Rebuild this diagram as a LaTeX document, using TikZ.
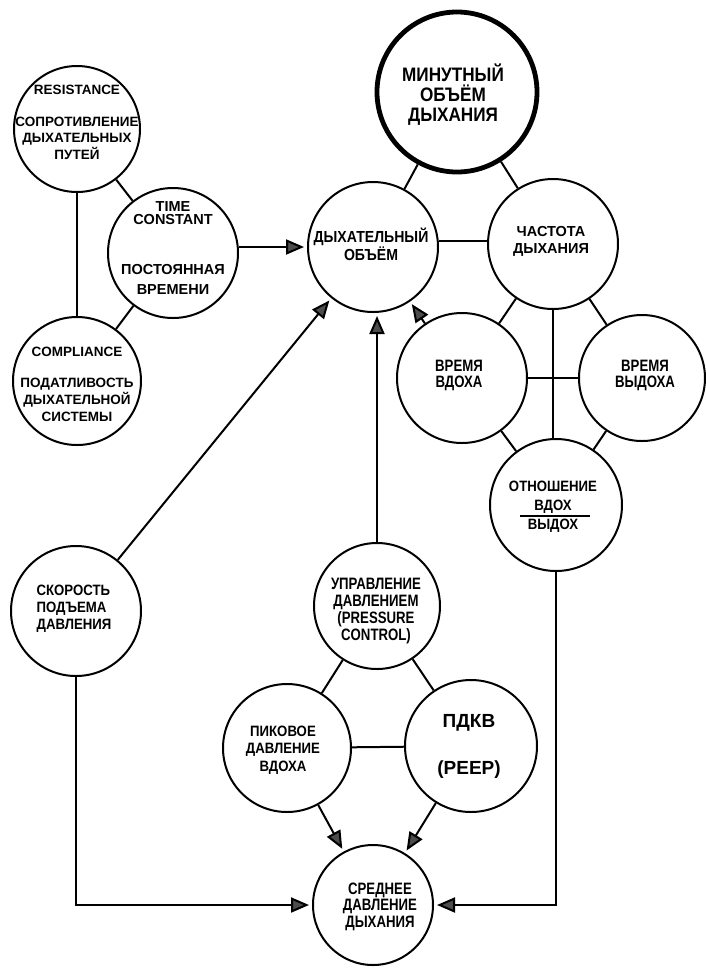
\documentclass[tikz,border=0pt]{standalone}
\usepackage{fontspec}
\setmainfont{Liberation Sans}
\newfontfamily\fa{Liberation Sans}
\newfontfamily\fb[FakeStretch=0.88]{Liberation Sans}
\newfontfamily\fc[FakeStretch=0.8]{Liberation Sans}
\usetikzlibrary{arrows.meta}
\newcommand\fsz[2]{\fontsize{#1}{#2}\selectfont\bfseries}
\begin{document}
\begin{tikzpicture}[x=1pt,y=-1pt,
  circ/.style={circle,draw=black,line width=2pt,inner sep=0pt},
  bigcirc/.style={circle,draw=black,line width=4.8pt,inner sep=0pt},
  txt/.style={align=center,inner sep=0pt,text=black},
  link/.style={line width=2pt},
  arr/.style={line width=2pt,shorten >=3pt,-{Triangle[length=18pt,width=15pt,fill=black!70]}}
]
\fill[white] (0,0) rectangle (706,970);
\useasboundingbox (0,0) rectangle (706,970);

% circles
\node[circ,minimum size=126pt] (res) at (77,129) {};
\node[circ,minimum size=130pt] (tc) at (173,253) {};
\node[circ,minimum size=128pt] (comp) at (77,381) {};
\node[bigcirc,minimum size=160pt] (mod) at (457,92) {};
\node[circ,minimum size=130pt] (do) at (373,247) {};
\node[circ,minimum size=130pt] (chd) at (553,244) {};
\node[circ,minimum size=130pt] (vv) at (462,378) {};
\node[circ,minimum size=126pt] (vvy) at (642,378) {};
\node[circ,minimum size=132pt] (otn) at (556,505) {};
\node[circ,minimum size=130pt] (skor) at (76,611) {};
\node[circ,minimum size=126pt] (upr) at (377,606) {};
\node[circ,minimum size=128pt] (pik) at (287,748) {};
\node[circ,minimum size=132pt] (pdkv) at (471,746) {};
\node[circ,minimum size=120pt] (sred) at (373,905) {};

% texts
\node[txt,font=\fa\fsz{13.5}{16.5}] (res-t) at (77,122.5)
  {RESISTANCE\\[15pt]СОПРОТИВЛЕНИЕ\\ДЫХАТЕЛЬНЫХ\\ПУТЕЙ};
\node[txt,font=\fa\fsz{14.5}{16.5}] (tc-t) at (173,248.5)
  {TIME\\[-3.5pt]CONSTANT\\[33.5pt]ПОСТОЯННАЯ\\[3.5pt]ВРЕМЕНИ};
\node[txt,font=\fa\fsz{13.5}{17}] (comp-t) at (77,384.5)
  {COMPLIANCE\\[14pt]ПОДАТЛИВОСТЬ\\ДЫХАТЕЛЬНОЙ\\СИСТЕМЫ};
\node[txt,font=\fb\fsz{19.5}{20}] (mod-t) at (453,95)
  {МИНУТНЫЙ\\ОБЪЁМ\\ДЫХАНИЯ};
\node[txt,font=\fb\fsz{16}{18}] (do-t) at (371,244)
  {ДЫХАТЕЛЬНЫЙ\\ОБЪЁМ};
\node[txt,font=\fa\fsz{14.5}{17}] (chd-t) at (551,241.5)
  {ЧАСТОТА\\ДЫХАНИЯ};
\node[txt,font=\fc\fsz{16.5}{16}] (vv-t) at (459,375)
  {ВРЕМЯ\\ВДОХА};
\node[txt,font=\fc\fsz{16.5}{16}] (vvy-t) at (645,375)
  {ВРЕМЯ\\ВЫДОХА};
\node[txt,font=\fb\fsz{15}{19}] (otn-t) at (553,507)
  {ОТНОШЕНИЕ\\ВДОХ\\ВЫДОХ};
\draw[line width=1.3pt] ([shift={(-33,9)}]otn-t.center) -- ([shift={(37,9)}]otn-t.center);
\node[txt,align=left,font=\fb\fsz{15}{17}] (skor-t) at (74,609)
  {СКОРОСТЬ\\ПОДЪЕМА\\ДАВЛЕНИЯ};
\node[txt,font=\fc\fsz{16.5}{17.3}] (upr-t) at (376,611)
  {УПРАВЛЕНИЕ\\ДАВЛЕНИЕМ\\(PRESSURE\\CONTROL)};
\node[txt,font=\fb\fsz{15}{17.5}] (pik-t) at (283,750)
  {ПИКОВОЕ\\ДАВЛЕНИЕ\\ВДОХА};
\node[txt,font=\fa\fsz{19}{47}] (pdkv-t) at (469,746.5)
  {ПДКВ\\(PEEP)};
\node[txt,font=\fc\fsz{16.5}{16.5}] (sred-t) at (380,906.5)
  {СРЕДНЕЕ\\ДАВЛЕНИЕ\\ДЫХАНИЯ};

% connectors
\draw[link] (mod) -- (do);
\draw[link] (mod) -- (chd);
\draw[link] (do.east |- 0,241) -- (chd.west |- 0,241);
\draw[link] (res) -- (tc);
\draw[link] (res) -- (comp);
\draw[link] (tc) -- (comp);
\draw[arr] (tc.east |- do.west) -- (do.west);
\draw[link] (chd) -- (vv);
\draw[link] (chd) -- (vvy);
\draw[link] (chd.south) -- (chd.south |- otn.north);
\draw[link] (vv) -- (vvy);
\draw[link] (vv) -- (otn);
\draw[link] (vvy) -- (otn);
\draw[arr] (vv) -- (do);
\draw[arr] (upr.north) -- (upr.north |- do.south);
\draw[arr] (skor) -- (do);
\draw[link] (upr) -- (pik);
\draw[link] (upr) -- (pdkv);
\draw[link] (pik) -- (pdkv);
\draw[arr] (pik) -- (sred);
\draw[arr] (pdkv) -- (sred);
\draw[arr] (skor.south) |- (sred.west);
\draw[arr] (otn.south) |- (sred.east);
\end{tikzpicture}
\end{document}
